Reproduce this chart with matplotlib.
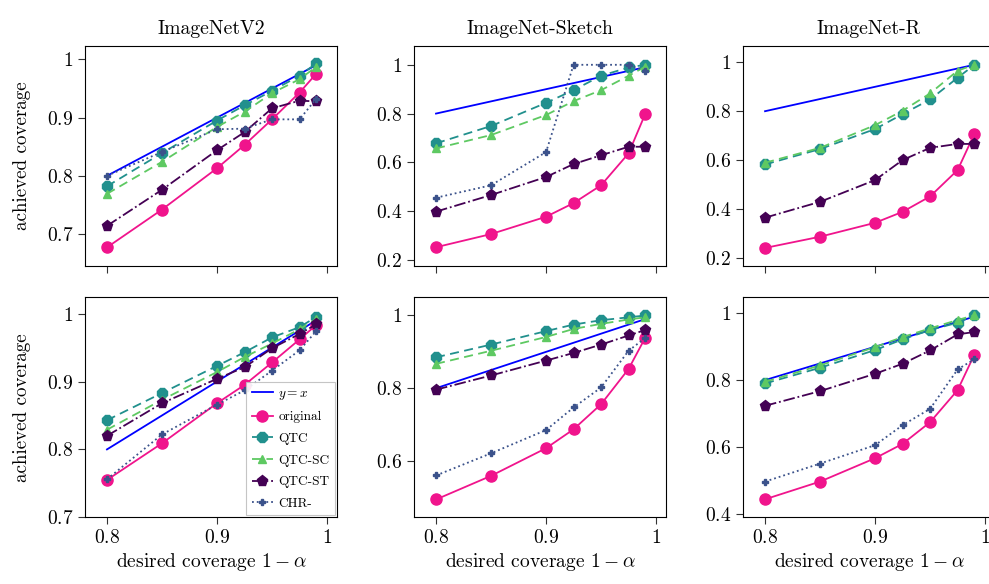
import matplotlib
matplotlib.use("Agg")
import matplotlib.pyplot as plt
from matplotlib.ticker import FixedLocator, FuncFormatter

plt.rcParams['font.family'] = ['cmr10', 'DejaVu Serif']
plt.rcParams['mathtext.fontset'] = 'cm'
plt.rcParams['axes.formatter.use_mathtext'] = True

desired = [0.8, 0.85, 0.9, 0.925, 0.95, 0.975, 0.99]

datasets = ["ImageNetV2", "ImageNet-Sketch", "ImageNet-R"]

# Row 1
r1_original = [
    [0.677, 0.742, 0.813, 0.853, 0.897, 0.943, 0.975],
    [0.252, 0.306, 0.377, 0.433, 0.506, 0.637, 0.797],
    [0.240, 0.286, 0.343, 0.388, 0.451, 0.559, 0.705],
]
r1_qtc = [
    [0.782, 0.839, 0.895, 0.921, 0.946, 0.972, 0.993],
    [0.678, 0.749, 0.844, 0.896, 0.955, 0.989, 1.000],
    [0.582, 0.645, 0.727, 0.788, 0.848, 0.937, 0.989],
]
r1_qtc_sc = [
    [0.769, 0.824, 0.884, 0.910, 0.942, 0.966, 0.987],
    [0.657, 0.712, 0.794, 0.851, 0.896, 0.955, 0.992],
    [0.589, 0.650, 0.743, 0.802, 0.873, 0.966, 0.990],
]
r1_qtc_st = [
    [0.714, 0.776, 0.844, 0.875, 0.916, 0.929, 0.928],
    [0.398, 0.466, 0.540, 0.593, 0.629, 0.664, 0.664],
    [0.364, 0.429, 0.518, 0.600, 0.650, 0.666, 0.666],
]
r1_chr = [
    [0.800, 0.841, 0.880, 0.881, 0.897, 0.897, 0.932],
    [0.455, 0.506, 0.642, 1.000, 1.000, 1.000, 0.975],
    None,
]

# Row 2
r2_original = [
    [0.755, 0.809, 0.868, 0.895, 0.928, 0.962, 0.983],
    [0.494, 0.559, 0.635, 0.687, 0.756, 0.853, 0.938],
    [0.443, 0.496, 0.566, 0.609, 0.674, 0.770, 0.875],
]
r2_qtc = [
    [0.843, 0.883, 0.923, 0.943, 0.965, 0.980, 0.995],
    [0.885, 0.920, 0.957, 0.975, 0.987, 0.995, 1.000],
    [0.790, 0.837, 0.890, 0.922, 0.950, 0.972, 0.994],
]
r2_qtc_sc = [
    [0.829, 0.873, 0.914, 0.936, 0.956, 0.977, 0.992],
    [0.867, 0.903, 0.941, 0.963, 0.977, 0.989, 0.995],
    [0.795, 0.844, 0.899, 0.929, 0.955, 0.980, 0.994],
]
r2_qtc_st = [
    [0.820, 0.868, 0.904, 0.921, 0.949, 0.970, 0.984],
    [0.796, 0.835, 0.876, 0.897, 0.920, 0.945, 0.960],
    [0.723, 0.767, 0.819, 0.849, 0.889, 0.937, 0.944],
]
r2_chr = [
    [0.756, 0.822, 0.866, 0.887, 0.916, 0.946, 0.974],
    [0.560, 0.621, 0.685, 0.747, 0.802, 0.903, 0.938],
    [0.496, 0.550, 0.605, 0.665, 0.714, 0.832, 0.862],
]

rows = [
    (r1_original, r1_qtc, r1_qtc_sc, r1_qtc_st, r1_chr),
    (r2_original, r2_qtc, r2_qtc_sc, r2_qtc_st, r2_chr),
]

ylims = [
    [(0.645, 1.023), (0.175, 1.077), (0.166, 1.067)],
    [(0.700, 1.024), (0.445, 1.050), (0.389, 1.048)],
]
yticks = [
    [[0.7, 0.8, 0.9, 1.0], [0.2, 0.4, 0.6, 0.8, 1.0], [0.2, 0.4, 0.6, 0.8, 1.0]],
    [[0.7, 0.8, 0.9, 1.0], [0.6, 0.8, 1.0], [0.4, 0.6, 0.8, 1.0]],
]
xticks = [0.8, 0.9, 1.0]

c_ident = '#0000ff'
c_orig = '#f0148c'
c_qtc = '#21908d'
c_qtcsc = '#5ec962'
c_qtcst = '#440154'
c_chr = '#3b528b'

def fmt(v, pos):
    s = ('%.1f' % v)
    if s == '1.0':
        s = '1'
    return '$' + s + '$'

fig = plt.figure(figsize=(9.89, 5.84), dpi=100)
lefts = [0.0859, 0.4186, 0.7513]
bottoms = [0.5445, 0.1142]
w, h = 0.2548, 0.3767

for r in range(2):
    orig, qtc, qtcsc, qtcst, chrm = rows[r]
    for c in range(3):
        ax = fig.add_axes([lefts[c], bottoms[r], w, h])
        ax.plot([desired[0], desired[-1]], [desired[0], desired[-1]], '-', color=c_ident,
                lw=1.3, label='$y=x$', zorder=2)
        ax.plot(desired, orig[c], '-', marker='o', color=c_orig, lw=1.3, ms=8,
                label='original', zorder=3)
        ax.plot(desired, qtc[c], '--', marker='8', color=c_qtc, lw=1.3, ms=8,
                label='QTC', zorder=3, dashes=(5, 3))
        ax.plot(desired, qtcsc[c], '--', marker='^', color=c_qtcsc, lw=1.3, ms=6,
                label='QTC-SC', zorder=3, dashes=(5, 3))
        ax.plot(desired, qtcst[c], '-.', marker='p', color=c_qtcst, lw=1.3, ms=8,
                label='QTC-ST', zorder=3)
        if chrm[c] is not None:
            ax.plot(desired, chrm[c], ':', marker='P', color=c_chr, lw=1.3, ms=5,
                    label='CHR-', zorder=3)
        else:
            ax.plot([], [], ':', marker='P', color=c_chr, lw=1.3, ms=5, label='CHR-')
        ax.set_xlim(0.78, 1.009)
        ax.set_ylim(*ylims[r][c])
        ax.xaxis.set_major_locator(FixedLocator(xticks))
        ax.yaxis.set_major_locator(FixedLocator(yticks[r][c]))
        ax.xaxis.set_major_formatter(FuncFormatter(fmt))
        ax.yaxis.set_major_formatter(FuncFormatter(fmt))
        ax.tick_params(labelsize=14, length=5, width=0.8, color='#333333')
        for sp in ax.spines.values():
            sp.set_linewidth(0.8)
        if r == 0:
            ax.tick_params(labelbottom=False)
            ax.set_title(datasets[c], fontsize=14.2, pad=9)
        else:
            ax.set_xlabel(r'desired coverage $1-\alpha$', fontsize=14, labelpad=3)
        if c == 0:
            ax.set_ylabel('achieved coverage', fontsize=13.7, labelpad=11)
        if r == 1 and c == 0:
            leg = ax.legend(loc='lower right', fontsize=9.6, fancybox=False,
                            borderaxespad=0.15, handlelength=1.6, labelspacing=0.7,
                            handletextpad=0.4, edgecolor='0.75', framealpha=0.9)
            leg.get_frame().set_linewidth(0.8)

fig.savefig('out.png', dpi=100)
